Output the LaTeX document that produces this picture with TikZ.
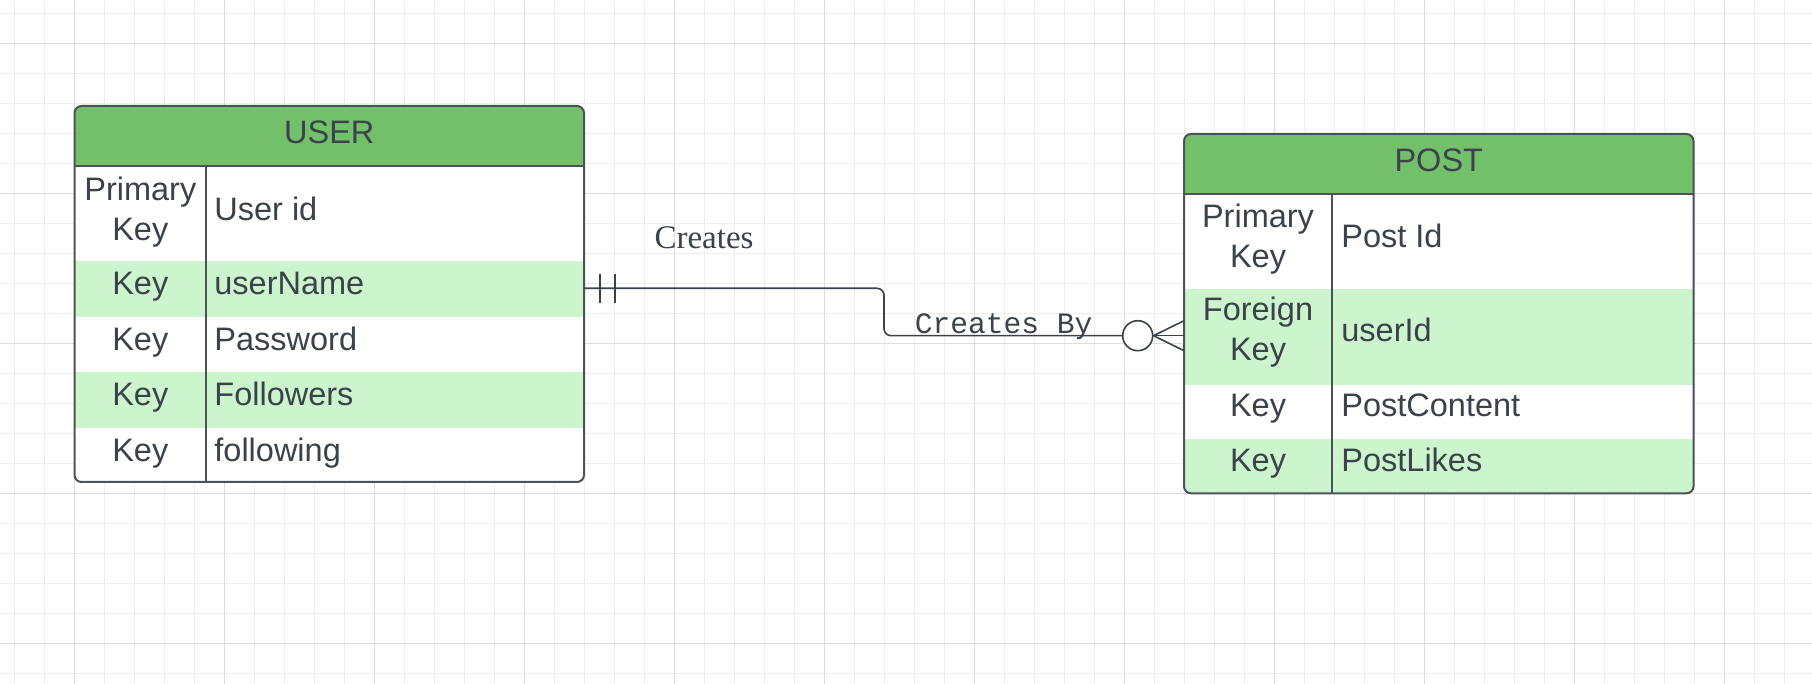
\documentclass[tikz,border=0pt]{standalone}
\usepackage{fontspec}
\setmainfont{Liberation Serif}
\setsansfont{Liberation Sans}
\setmonofont{Liberation Mono}
\usetikzlibrary{calc}
\definecolor{hdgreen}{HTML}{73C06B}
\definecolor{rowgreen}{HTML}{CDF5CD}
\definecolor{inkgray}{HTML}{3B424A}
\definecolor{edgegray}{HTML}{4D5258}
\definecolor{gridminor}{HTML}{EEEEEE}
\definecolor{gridmajor}{HTML}{DDDDDD}

\begin{document}
\begin{tikzpicture}[x=0.5pt,y=-0.5pt,
  gridmin/.style={draw=gridminor, line width=0.5pt},
  gridmaj/.style={draw=gridmajor, line width=0.5pt},
  tabline/.style={draw=edgegray, line width=1pt},
  cell/.style={text=inkgray, inner sep=0pt, font={\sffamily\fontsize{16.25}{20}\selectfont}},
  conn/.style={draw=inkgray, line width=0.8pt},
  rellbl/.style={text=inkgray, inner sep=0pt, font={\rmfamily\fontsize{16.5}{20}\selectfont}},
  monolbl/.style={text=inkgray, inner sep=0pt, font={\ttfamily\fontsize{14.8}{18}\selectfont}}]
\useasboundingbox (0,0) rectangle (1812,684);
\fill[white] (0,0) rectangle (1812,684);

% background grid
\foreach \gx in {14.8,44.8,...,1800} \draw[gridmin] (\gx,0) -- (\gx,684);
\foreach \gy in {13.3,43.3,...,684} \draw[gridmin] (0,\gy) -- (1812,\gy);
\foreach \gx in {74.6,224.6,...,1800} \draw[gridmaj] (\gx,0) -- (\gx,684);
\foreach \gy in {43.3,193.3,...,684} \draw[gridmaj] (0,\gy) -- (1812,\gy);

% USER table
\begin{scope}
\clip[rounded corners=3.5pt] (74.5,106) rectangle (584,482);
\fill[white] (74.5,106) rectangle (584,482);
\fill[hdgreen] (74.5,106) rectangle (584,165.7);
\fill[rowgreen] (74.5,261) rectangle (584,316.6);
\fill[rowgreen] (74.5,372) rectangle (584,427.6);
\end{scope}
\draw[tabline, rounded corners=3.5pt] (74.5,106) rectangle (584,482);
\draw[tabline] (74.5,165.7) -- (584,165.7);
\draw[tabline] (206,165.7) -- (206,482);

\node[cell, anchor=base] (userTitle) at (329.3,143.3) {USER};
\node[cell, anchor=base, align=center] (userPk) at (140.3,241) {Primary\\Key};
\node[cell, anchor=base west] (userId) at (214,221) {User id};
\foreach \ry/\rname [count=\i] in {295/userName, 350.5/Password, 406/Followers, 461.5/following} {
  \node[cell, anchor=base] (userKey\i) at (140.3,\ry) {Key};
  \node[cell, anchor=base west] (userAttr\i) at (214,\ry) {\rname};
}

% POST table
\begin{scope}
\clip[rounded corners=3.5pt] (1184,134) rectangle (1693.5,493.3);
\fill[white] (1184,134) rectangle (1693.5,493.3);
\fill[hdgreen] (1184,134) rectangle (1693.5,194);
\fill[rowgreen] (1184,289.3) rectangle (1693.5,385);
\fill[rowgreen] (1184,439) rectangle (1693.5,493.3);
\end{scope}
\draw[tabline, rounded corners=3.5pt] (1184,134) rectangle (1693.5,493.3);
\draw[tabline] (1184,194) -- (1693.5,194);
\draw[tabline] (1332,194) -- (1332,493.3);

\node[cell, anchor=base] (postTitle) at (1438.8,171.3) {POST};
\node[cell, anchor=base, align=center] (postPk) at (1258,268) {Primary\\Key};
\node[cell, anchor=base west] (postId) at (1341,248) {Post Id};
\node[cell, anchor=base, align=center] (postFk) at (1258,361) {Foreign\\Key};
\node[cell, anchor=base west] (postUser) at (1341,341.7) {userId};
\foreach \ry/\rname [count=\i] in {416.7/PostContent, 471.7/PostLikes} {
  \node[cell, anchor=base] (postKey\i) at (1258,\ry) {Key};
  \node[cell, anchor=base west] (postAttr\i) at (1341,\ry) {\rname};
}

% relationship
\coordinate (uLink) at (584,288.3);
\coordinate (pLink) at (1184,335.7);
\node[conn, fill=white, circle, minimum size=15pt, inner sep=0pt] (many) at (1137.7,335.7) {};
\draw[conn, rounded corners=3.5pt] (uLink) -- ++(300,0) |- (many.west);
\draw[conn] (uLink) ++(16,-14.7) -- ++(0,29.4);
\draw[conn] (uLink) ++(30.7,-14.7) -- ++(0,29.4);
\draw[conn] ($(pLink)+(0,-15)$) -- (many.east) -- ($(pLink)+(0,15)$);
\draw[conn] (many.east) -- (pLink);

\node[rellbl, anchor=base] (creates) at (704,248.3) {Creates};
\node[monolbl, anchor=base] (createsBy) at (1003.7,333.3) {Creates By};
\end{tikzpicture}
\end{document}
